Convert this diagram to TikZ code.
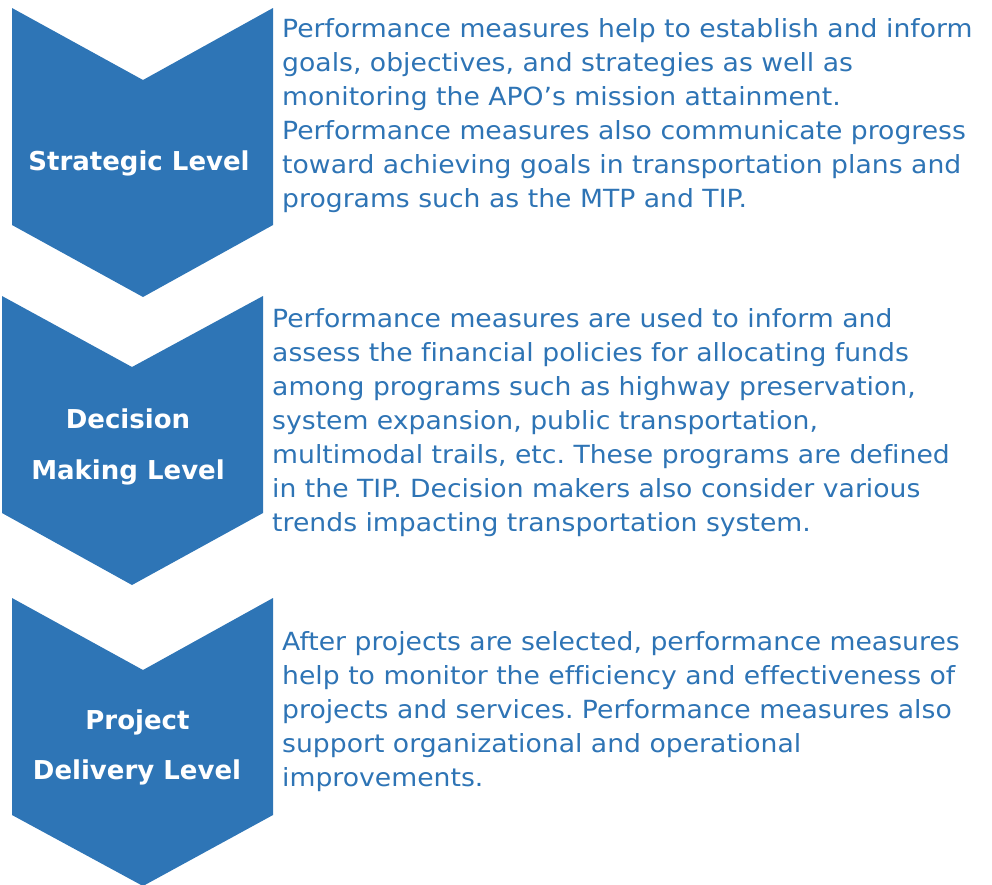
\documentclass[tikz,border=0pt]{standalone}
\usepackage{fontspec}
\setmainfont[FakeStretch=1.066,Ligatures=NoCommon]{DejaVu Sans}
\newfontfamily\labelfont{DejaVu Sans}
\frenchspacing
\definecolor{levelblue}{HTML}{2E75B6}
\definecolor{bodyblue}{HTML}{2E74B5}
\tikzset{
  x=1pt, y=-1pt,
  chevron/.style={fill=levelblue, draw=none},
  levellabel/.style={text=white, font=\labelfont\fontsize{26}{30}\selectfont\bfseries, inner sep=0pt, anchor=base},
  bodytext/.style={text=bodyblue, inner sep=0pt, anchor=base west, font=\fontsize{25}{34}\selectfont}
}
\newcommand\bodylines[1]{\vtop{\baselineskip=34pt \lineskiplimit=-20pt \halign{##\hfil\cr#1\crcr}}}
\begin{document}
\begin{tikzpicture}
\useasboundingbox (0,0) rectangle (992,884);
% three downward chevrons
\fill[chevron] (12,8) -- (143,80) -- (273,8) -- (273,225) -- (143,297) -- (12,225) -- cycle;
\fill[chevron] (2,296) -- (132,367) -- (263,296) -- (263,513) -- (132,585) -- (2,513) -- cycle;
\fill[chevron] (12,598) -- (143,670) -- (273,598) -- (273,815) -- (143,886) -- (12,815) -- cycle;
% level names
\node[levellabel] (strategic) at (139,170.5) {Strategic Level};
\node[levellabel] (decision) at (128,428.3) {Decision};
\node[levellabel] (making) at (128,479) {Making Level};
\node[levellabel] (project) at (137.5,729) {Project};
\node[levellabel] (delivery) at (137,779) {Delivery Level};
% descriptions
\node[bodytext] (strategictext) at (282,37.2) {\bodylines{%
Performance measures help to establish and inform\cr
goals, objectives, and strategies as well as\cr
monitoring the APO’s mission attainment.\cr
Performance measures also communicate progress\cr
toward achieving goals in transportation plans and\cr
programs such as the MTP and TIP.}};
\node[bodytext] (decisiontext) at (272,327.3) {\bodylines{%
Performance measures are used to inform and\cr
assess the financial policies for allocating funds\cr
among programs such as highway preservation,\cr
system expansion, public transportation,\cr
multimodal trails, etc. These programs are defined\cr
in the TIP. Decision makers also consider various\cr
trends impacting transportation system.}};
\node[bodytext] (projecttext) at (282,650) {\bodylines{%
After projects are selected, performance measures\cr
help to monitor the efficiency and effectiveness of\cr
projects and services. Performance measures also\cr
support organizational and operational\cr
improvements.}};
\end{tikzpicture}
\end{document}
